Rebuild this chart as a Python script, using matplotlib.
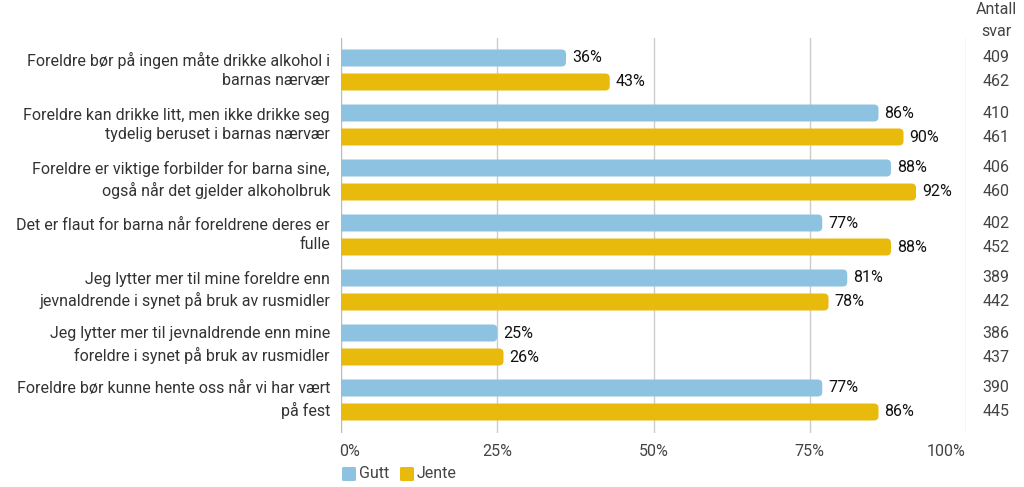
import matplotlib
matplotlib.use("Agg")
import matplotlib.pyplot as plt
from matplotlib.patches import FancyBboxPatch
from matplotlib.transforms import offset_copy

plt.rcParams['font.family'] = ['Roboto', 'DejaVu Sans']

categories = [
    "Foreldre bør på ingen måte drikke alkohol i\nbarnas nærvær",
    "Foreldre kan drikke litt, men ikke drikke seg\ntydelig beruset i barnas nærvær",
    "Foreldre er viktige forbilder for barna sine,\nogså når det gjelder alkoholbruk",
    "Det er flaut for barna når foreldrene deres er\nfulle",
    "Jeg lytter mer til mine foreldre enn\njevnaldrende i synet på bruk av rusmidler",
    "Jeg lytter mer til jevnaldrende enn mine\nforeldre i synet på bruk av rusmidler",
    "Foreldre bør kunne hente oss når vi har vært\npå fest",
]
gutt = [36, 86, 88, 77, 81, 25, 77]
jente = [43, 90, 92, 88, 78, 26, 86]
antall_gutt = [409, 410, 406, 402, 389, 386, 390]
antall_jente = [462, 461, 460, 452, 442, 437, 445]
xticks = [0, 25, 50, 75, 100]
xticklabels = ["0%", "25%", "50%", "75%", "100%"]
series_names = ["Gutt", "Jente"]

c_gutt = "#8DC3E0"
c_jente = "#E8BA0C"
text_c = "#333333"
fs = 11.5

L, R = 341, 966
fig = plt.figure(figsize=(10.24, 4.87), dpi=100)
ax = fig.add_axes([L/1024, 1-433/487, (R-L)/1024, (433-38)/487])

gap = 24/55
bh = 17/55
ax.set_xlim(0, 100)
ax.set_ylim(6 + gap + (433-412)/55, -20/55)

px_x = (R-L)/100
px_y = 55
r_px = 4.5
rs = r_px/px_x
aspect = (r_px/px_y)/rs

val_tr = offset_copy(ax.transData, fig=fig, x=6, y=0, units='dots')
cat_tr = offset_copy(ax.transData, fig=fig, x=-11, y=0, units='dots')

for i in range(len(categories)):
    for val, off, col in ((gutt[i], 0, c_gutt), (jente[i], gap, c_jente)):
        y = i + off
        p = FancyBboxPatch((-5, y - bh/2), val + 5, bh,
                           boxstyle=f"round,pad=0,rounding_size={rs}",
                           mutation_aspect=aspect, fc=col, ec="none", zorder=3)
        ax.add_patch(p)
        ax.text(val, y, f"{val}%", va="center", ha="left",
                fontsize=fs, color="#111111", zorder=4, transform=val_tr)
    ax.text(0, i + gap/2, categories[i], ha="right", va="center",
            fontsize=fs, color=text_c, linespacing=1.38,
            transform=cat_tr, clip_on=False)
    ax.text(996/1024, i, str(antall_gutt[i]),
            transform=matplotlib.transforms.blended_transform_factory(fig.transFigure, ax.transData),
            ha="center", va="center", fontsize=fs, color="#444444")
    ax.text(996/1024, i + gap, str(antall_jente[i]),
            transform=matplotlib.transforms.blended_transform_factory(fig.transFigure, ax.transData),
            ha="center", va="center", fontsize=fs, color="#444444")

fig.text(996/1024, 1-10/487, "Antall", ha="center", va="center", fontsize=fs, color="#444444")
fig.text(996/1024, 1-31/487, "svar", ha="center", va="center", fontsize=fs, color="#444444")

for x in xticks:
    ax.axvline(x, color="#cccccc" if x != 0 else "#bbbbbb", lw=1, zorder=1)

ax.set_xticks(xticks)
ax.set_xticklabels(xticklabels, fontsize=fs, color="#444444")
ax.tick_params(axis="x", length=0, pad=8)
tl = ax.get_xticklabels()
tl[0].set_ha("left")
tl[0].set_transform(tl[0].get_transform() + matplotlib.transforms.ScaledTranslation(-2/100, 0, fig.dpi_scale_trans))
tl[-1].set_ha("right")
ax.set_yticks([])
for s in ax.spines.values():
    s.set_visible(False)

# legend
lx = 342/1024
ly = 1-474/487
sq_w = 14/1024
sq_h = 14/487
offs = [0, 58/1024]
for j, (name, col) in enumerate(zip(series_names, [c_gutt, c_jente])):
    x0 = lx + offs[j]
    fig.patches.append(FancyBboxPatch((x0, ly - sq_h/2), sq_w, sq_h,
                                      boxstyle="round,pad=0,rounding_size=0.002",
                                      fc=col, ec="none", transform=fig.transFigure, figure=fig))
    fig.text(x0 + 17/1024, ly, name, ha="left", va="center", fontsize=fs, color="#444444")

fig.savefig("out.png", dpi=100)
